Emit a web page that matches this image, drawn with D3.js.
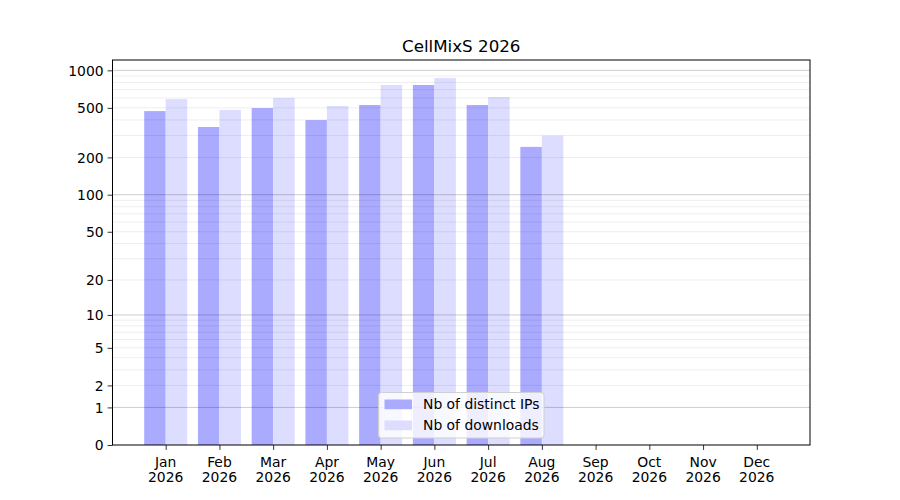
<!DOCTYPE html>
<html>
<head>
<meta charset="utf-8">
<script src="https://cdn.jsdelivr.net/npm/d3@7"></script>
<style>
  body { margin: 0; background: #fff; }
  text { font-family: "DejaVu Sans", sans-serif; fill: #000; }
</style>
</head>
<body>
<script>
// Chart data
var title = "CellMixS 2026";
var months = ["Jan", "Feb", "Mar", "Apr", "May", "Jun", "Jul", "Aug", "Sep", "Oct", "Nov", "Dec"];
var year = "2026";
var distinctIPs = [471, 351, 498, 399, 527, 763, 527, 243, 0, 0, 0, 0];
var downloads = [588, 481, 601, 518, 763, 867, 611, 299, 0, 0, 0, 0];
var seriesNames = ["Nb of distinct IPs", "Nb of downloads"];
var yTicks = [0, 1, 2, 5, 10, 20, 50, 100, 200, 500, 1000];
var majorGrid = [1, 10, 100, 1000];
var minorGrid = [2, 3, 4, 5, 6, 7, 8, 9, 20, 30, 40, 50, 60, 70, 80, 90,
                 200, 300, 400, 500, 600, 700, 800, 900];

var outerWidth = 900,
  outerHeight = 500,
  margin = {top: 60, right: 90, bottom: 55, left: 112.5},
  width = outerWidth - margin.left - margin.right,
  height = outerHeight - margin.top - margin.bottom;

var svg = d3.select("body").append("svg")
  .attr("width", outerWidth)
  .attr("height", outerHeight);

var g = svg.append("g")
  .attr("transform", "translate(" + margin.left + "," + margin.top + ")");

// x is a linear scale over month index, bars sit either side of the tick
var xScale = d3.scaleLinear()
  .domain([-0.99, 11.99])
  .range([0, width]);

// y is log(1 + v), which is what d3's symlog does with constant 1
var yScale = d3.scaleSymlog()
  .constant(1)
  .domain([0, 1210])
  .range([height, 0]);

var barW = xScale(0.4) - xScale(0);

// bars first, gridlines drawn over them
g.selectAll(".bar-ip")
  .data(distinctIPs)
  .enter().append("rect")
  .attr("class", "bar-ip")
  .attr("x", function(d, i) { return xScale(i - 0.4); })
  .attr("y", function(d) { return yScale(d); })
  .attr("width", barW)
  .attr("height", function(d) { return height - yScale(d); })
  .attr("fill", "#aaaaff");

g.selectAll(".bar-dl")
  .data(downloads)
  .enter().append("rect")
  .attr("class", "bar-dl")
  .attr("x", function(d, i) { return xScale(i); })
  .attr("y", function(d) { return yScale(d); })
  .attr("width", barW)
  .attr("height", function(d) { return height - yScale(d); })
  .attr("fill", "#ddddff");

// gridlines
g.selectAll(".minor")
  .data(minorGrid)
  .enter().append("line")
  .attr("class", "minor")
  .attr("x1", 0).attr("x2", width)
  .attr("y1", function(d) { return yScale(d); })
  .attr("y2", function(d) { return yScale(d); })
  .attr("stroke", "rgba(0,0,0,0.07)")
  .attr("stroke-width", 1);

g.selectAll(".major")
  .data(majorGrid)
  .enter().append("line")
  .attr("class", "major")
  .attr("x1", 0).attr("x2", width)
  .attr("y1", function(d) { return yScale(d); })
  .attr("y2", function(d) { return yScale(d); })
  .attr("stroke", "rgba(0,0,0,0.2)")
  .attr("stroke-width", 1);

// axes
var yAxis = d3.axisLeft(yScale)
  .tickValues(yTicks)
  .tickFormat(d3.format("d"))
  .tickSize(4.9)
  .tickPadding(4);

var xAxis = d3.axisBottom(xScale)
  .tickValues(d3.range(months.length))
  .tickSize(4.9)
  .tickFormat("");

var yG = g.append("g").call(yAxis);
yG.select(".domain").remove();
yG.selectAll("text")
  .style("font-size", "13.9px")
  .attr("dy", "0.35em");

var xG = g.append("g")
  .attr("transform", "translate(0," + height + ")")
  .call(xAxis);
xG.select(".domain").remove();

// two line month labels
var labels = g.selectAll(".mlabel")
  .data(months)
  .enter().append("text")
  .attr("class", "mlabel")
  .attr("text-anchor", "middle")
  .style("font-size", "13.9px")
  .attr("x", function(d, i) { return xScale(i); });
labels.append("tspan")
  .attr("x", function(d, i) { return xScale(i); })
  .attr("y", height + 22)
  .text(function(d) { return d; });
labels.append("tspan")
  .attr("x", function(d, i) { return xScale(i); })
  .attr("y", height + 37)
  .text(year);

g.selectAll(".tick line").attr("stroke", "#000").attr("stroke-width", 0.8);

// frame
g.append("rect")
  .attr("width", width)
  .attr("height", height)
  .attr("fill", "none")
  .attr("stroke", "#000")
  .attr("stroke-width", 1);

// title
svg.append("text")
  .attr("x", margin.left + width / 2)
  .attr("y", 52)
  .attr("text-anchor", "middle")
  .style("font-size", "16.7px")
  .text(title);

// legend at lower centre
var legend = g.append("g")
  .attr("transform", "translate(" + (378.5 - margin.left) + "," + (392.5 - margin.top) + ")");

legend.append("rect")
  .attr("width", 165.5)
  .attr("height", 45.5)
  .attr("rx", 3)
  .attr("fill", "rgba(255,255,255,0.8)")
  .attr("stroke", "#d0d0d0");

var legendColors = ["#aaaaff", "#ddddff"];
var item = legend.selectAll(".item")
  .data(seriesNames)
  .enter().append("g")
  .attr("class", "item")
  .attr("transform", function(d, i) { return "translate(6," + (7 + i * 21) + ")"; });

item.append("rect")
  .attr("width", 27.5)
  .attr("height", 9.7)
  .attr("fill", function(d, i) { return legendColors[i]; });

item.append("text")
  .attr("x", 38.5)
  .attr("y", 5)
  .attr("dy", "0.35em")
  .style("font-size", "13.9px")
  .text(function(d) { return d; });
</script>
</body>
</html>
